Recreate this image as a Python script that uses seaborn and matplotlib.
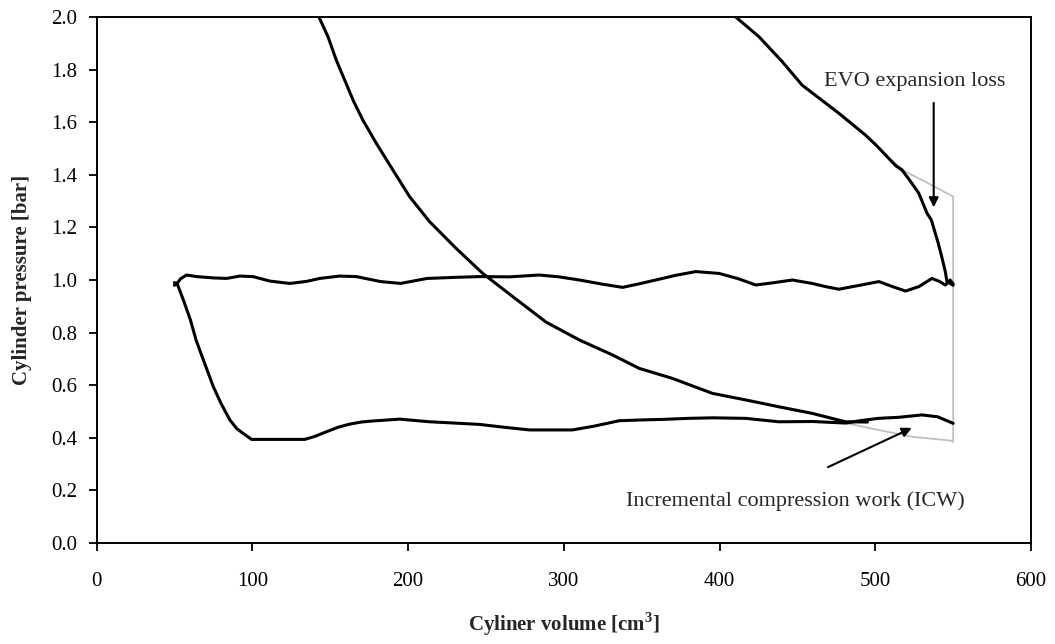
import numpy as np
import pandas as pd
import matplotlib
matplotlib.use("Agg")
import matplotlib.pyplot as plt
import seaborn as sns

# ---- data ----
upper_v = [50, 51.7, 54, 57.8, 64.2, 75, 83.5, 92, 100.5, 111.2, 124, 128.5, 135, 143.3, 156, 166.8,
           182.4, 195.2, 212.3, 230, 245.8, 265, 284.3, 297, 310, 324, 337.7, 348, 359, 372, 384.7,
           399.7, 412, 423.2, 435, 446.7, 459.5, 468, 476.6, 490, 502.3, 511, 519.4, 528, 536.4,
           541, 545, 548, 550]
upper_p = [0.98, 0.987, 1.005, 1.019, 1.013, 1.008, 1.006, 1.015, 1.013, 0.996, 0.987, 0.99, 0.995,
           1.006, 1.015, 1.013, 0.994, 0.987, 1.006, 1.01, 1.013, 1.012, 1.019, 1.012, 1.0, 0.985,
           0.972, 0.985, 1.0, 1.018, 1.032, 1.025, 1.005, 0.981, 0.99, 1.0, 0.987, 0.975, 0.965,
           0.98, 0.994, 0.975, 0.958, 0.975, 1.006, 0.995, 0.981, 1.0, 0.985]

lower_v = [50, 51.7, 56, 60.3, 64, 68.6, 75, 80, 85.6, 90, 94.1, 99.5, 110, 120, 133.7, 140, 147.6,
           155, 162.5, 170, 177.4, 194.6, 213.8, 230, 245.8, 262, 277.9, 290, 305.6, 320, 335.6,
           350, 363.3, 380, 395.4, 416.8, 438, 460, 481, 490, 502, 515, 530, 540, 550]
lower_p = [0.99, 0.987, 0.92, 0.848, 0.77, 0.696, 0.594, 0.53, 0.468, 0.435, 0.417, 0.394, 0.394,
           0.394, 0.394, 0.405, 0.423, 0.44, 0.452, 0.46, 0.464, 0.471, 0.461, 0.456, 0.451, 0.44,
           0.43, 0.43, 0.43, 0.445, 0.465, 0.468, 0.470, 0.474, 0.476, 0.474, 0.461, 0.462, 0.456,
           0.465, 0.474, 0.478, 0.487, 0.48, 0.455]

expA_v = [142.8, 148.6, 154, 160.4, 165, 171, 179.6, 190.3, 201, 213.8, 230.9, 248, 267.2, 288.6,
          310, 331.3, 348.4, 369.7, 395.4, 416.8, 438.1, 459.5, 480.9, 495]
expA_p = [2.0, 1.925, 1.835, 1.745, 1.68, 1.608, 1.52, 1.418, 1.317, 1.222, 1.12, 1.025, 0.937,
          0.84, 0.772, 0.715, 0.664, 0.626, 0.569, 0.544, 0.518, 0.493, 0.461, 0.46]

expB_v = [410.4, 425.3, 440.3, 453, 462.7, 476.6, 493.7, 501, 507.6, 513, 517.2, 522, 527.9, 533.2,
          536, 540.4, 543, 545, 546, 548, 550]
expB_p = [2.0, 1.925, 1.83, 1.741, 1.697, 1.634, 1.551, 1.51, 1.469, 1.435, 1.418, 1.38, 1.33,
          1.254, 1.228, 1.14, 1.08, 1.03, 0.994, 0.987, 0.98]

grey_v = [507.6, 520, 532, 550, 550, 549, 523.6, 502, 481, 460, 438]
grey_p = [1.469, 1.41, 1.374, 1.317, 0.384, 0.389, 0.404, 0.43, 0.456, 0.49, 0.516]

x_ticks = [0, 100, 200, 300, 400, 500, 600]
y_ticks = [0.0, 0.2, 0.4, 0.6, 0.8, 1.0, 1.2, 1.4, 1.6, 1.8, 2.0]

# ---- style ----
sns.set_style("ticks")
plt.rcParams['font.family'] = ['Liberation Serif', 'DejaVu Serif']
plt.rcParams['mathtext.fontset'] = 'custom'
plt.rcParams['mathtext.rm'] = 'Liberation Serif'
plt.rcParams['mathtext.bf'] = 'Liberation Serif:bold'

fig = plt.figure(figsize=(10.55, 6.44), dpi=100)
ax = fig.add_axes([0.0915, 0.1568, 0.8858, 0.8168])

black_lw = 2.2
sns.lineplot(x=grey_v, y=grey_p, sort=False, estimator=None, color='#c0c0c0', lw=1.3, ax=ax)
sns.lineplot(x=upper_v, y=upper_p, sort=False, estimator=None, color='black', lw=black_lw, ax=ax)
sns.lineplot(x=lower_v, y=lower_p, sort=False, estimator=None, color='black', lw=black_lw, ax=ax)
sns.lineplot(x=expA_v, y=expA_p, sort=False, estimator=None, color='black', lw=black_lw, ax=ax)
sns.lineplot(x=expB_v, y=expB_p, sort=False, estimator=None, color='black', lw=black_lw, ax=ax)

ax.set_xlim(0, 600)
ax.set_ylim(0, 2.0)
ax.set_xticks(x_ticks)
ax.set_xticklabels([str(t) for t in x_ticks])
ax.set_yticks(y_ticks)
ax.set_yticklabels([f"{t:.1f}" for t in y_ticks])
ax.tick_params(axis='both', direction='out', length=6, width=1.3, labelsize=15, colors='black')
ax.tick_params(axis='x', pad=15)
ax.tick_params(axis='y', pad=8)
for s in ax.spines.values():
    s.set_linewidth(1.4)
    s.set_color('black')

ax.set_xlabel("Cyliner volume [cm$^{\\mathbf{3}}$]", fontsize=15, fontweight='bold', labelpad=14)
ax.set_ylabel("Cylinder pressure [bar]", fontsize=15, fontweight='bold', labelpad=14)

ax.text(467, 1.754, "EVO expansion loss", fontsize=16, ha='left', va='center')
ax.annotate("", xy=(537.5, 1.266), xytext=(537.5, 1.684),
            arrowprops=dict(arrowstyle='-|>', color='black', lw=1.5, mutation_scale=14))
ax.text(340, 0.16, "Incremental compression work (ICW)", fontsize=16, ha='left', va='center')
ax.annotate("", xy=(525, 0.442), xytext=(468, 0.284),
            arrowprops=dict(arrowstyle='-|>', color='black', lw=1.5, mutation_scale=14))

fig.savefig("out.png", dpi=100)
